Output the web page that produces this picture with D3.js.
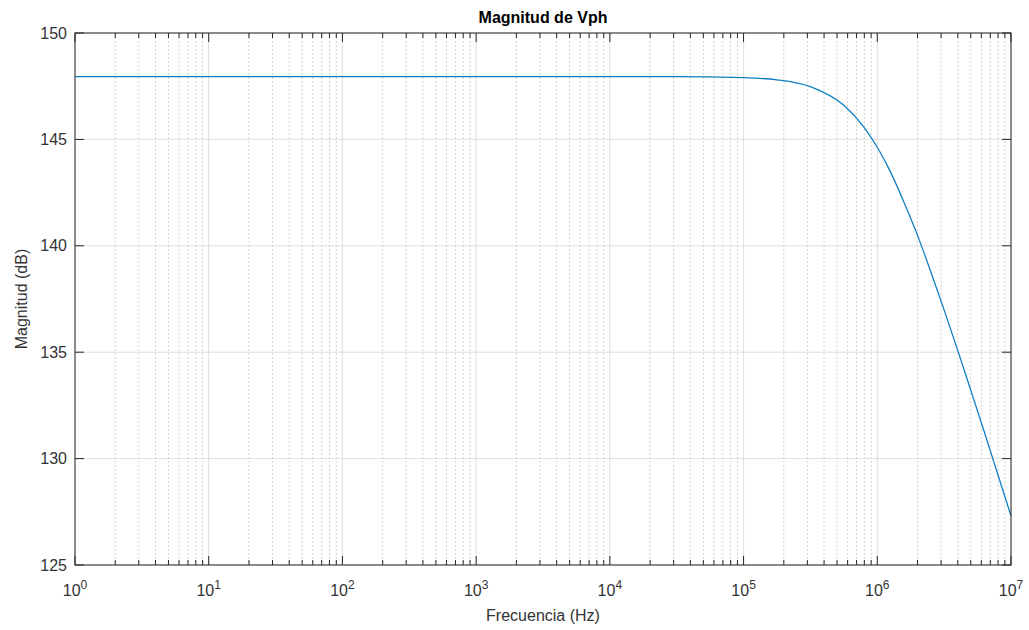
<!DOCTYPE html>
<html>
<head>
<meta charset="utf-8">
<script src="https://cdn.jsdelivr.net/npm/d3@7"></script>
<style>
  body { margin: 0; background: #fff; }
  text { font-family: "Liberation Sans", Arial, sans-serif; fill: #333; }
</style>
</head>
<body>
<svg id="chart" width="1029" height="630"></svg>
<script>
// frequency (Hz) and magnitude (dB)
var freq = [1, 10, 100, 1e3, 1e4, 3.16e4, 1e5, 1.78e5, 3.16e5, 5.62e5, 7.94e5,
            1e6, 1.26e6, 1.58e6, 2e6, 2.51e6, 3.16e6, 3.98e6, 5.01e6, 6.31e6, 7.94e6, 1e7];
var mag = [147.95, 147.95, 147.95, 147.95, 147.95, 147.95, 147.90, 147.80, 147.48, 146.60, 145.58,
           144.63, 143.45, 142.06, 140.49, 138.79, 136.99, 135.12, 133.20, 131.26, 129.29, 127.31];
var yTicks = [125, 130, 135, 140, 145, 150];
var xDecades = [0, 1, 2, 3, 4, 5, 6, 7];

var margin = {top: 33, right: 18, bottom: 65, left: 75};
var width = 1029 - margin.left - margin.right;
var height = 630 - margin.top - margin.bottom;

var svg = d3.select("#chart");
var g = svg.append("g")
    .attr("transform", "translate(" + margin.left + "," + margin.top + ")");

var x = d3.scaleLog().domain([1, 1e7]).range([0, width]);
var y = d3.scaleLinear().domain([125, 150]).range([height, 0]);

// minor positions
var minors = [];
xDecades.slice(0, -1).forEach(function (d) {
  for (var k = 2; k <= 9; k++) minors.push(k * Math.pow(10, d));
});

// grid
g.selectAll(".minor-grid").data(minors).enter().append("line")
    .attr("x1", function (d) { return x(d); }).attr("x2", function (d) { return x(d); })
    .attr("y1", 0).attr("y2", height)
    .style("stroke", "#d2d2d2").style("stroke-width", 1).style("stroke-dasharray", "2,2");
g.selectAll(".major-xgrid").data(xDecades).enter().append("line")
    .attr("x1", function (d) { return x(Math.pow(10, d)); }).attr("x2", function (d) { return x(Math.pow(10, d)); })
    .attr("y1", 0).attr("y2", height)
    .style("stroke", "#dedede").style("stroke-width", 1);
g.selectAll(".major-ygrid").data(yTicks).enter().append("line")
    .attr("x1", 0).attr("x2", width)
    .attr("y1", function (d) { return y(d); }).attr("y2", function (d) { return y(d); })
    .style("stroke", "#dedede").style("stroke-width", 1);

// line
var line = d3.line()
    .x(function (d, i) { return x(freq[i]); })
    .y(function (d) { return y(d); })
    .curve(d3.curveMonotoneX);
g.append("path")
    .datum(mag)
    .style("fill", "none")
    .style("stroke", "#0f7fc4")
    .style("stroke-width", 1.3)
    .attr("d", line);

// box
g.append("rect")
    .attr("x", 0).attr("y", 0).attr("width", width).attr("height", height)
    .style("fill", "none").style("stroke", "#262626").style("stroke-width", 1);

// ticks (inward, on all four sides)
var tickColor = "#262626";
xDecades.forEach(function (d) {
  var px = x(Math.pow(10, d));
  g.append("line").attr("x1", px).attr("x2", px).attr("y1", height).attr("y2", height - 9).style("stroke", tickColor);
  g.append("line").attr("x1", px).attr("x2", px).attr("y1", 0).attr("y2", 9).style("stroke", tickColor);
});
minors.forEach(function (d) {
  var px = x(d);
  g.append("line").attr("x1", px).attr("x2", px).attr("y1", height).attr("y2", height - 5).style("stroke", tickColor);
  g.append("line").attr("x1", px).attr("x2", px).attr("y1", 0).attr("y2", 5).style("stroke", tickColor);
});
yTicks.forEach(function (d) {
  var py = y(d);
  g.append("line").attr("x1", 0).attr("x2", 9).attr("y1", py).attr("y2", py).style("stroke", tickColor);
  g.append("line").attr("x1", width).attr("x2", width - 9).attr("y1", py).attr("y2", py).style("stroke", tickColor);
});

// tick labels
g.selectAll(".ylab").data(yTicks).enter().append("text")
    .attr("x", -8).attr("y", function (d) { return y(d); })
    .attr("dy", "0.35em").attr("text-anchor", "end")
    .style("font-size", "16px")
    .text(function (d) { return d; });

var xl = g.selectAll(".xlab").data(xDecades).enter().append("text")
    .attr("x", function (d) { return x(Math.pow(10, d)); })
    .attr("y", height + 31)
    .attr("text-anchor", "middle")
    .style("font-size", "16px");
xl.append("tspan").text("10");
xl.append("tspan").attr("dy", "-7").style("font-size", "12px").text(function (d) { return d; });

// titles
svg.append("text")
    .attr("x", margin.left + width / 2).attr("y", 23)
    .attr("text-anchor", "middle")
    .style("font-size", "16px").style("font-weight", "bold").style("fill", "#000")
    .text("Magnitud de Vph");
svg.append("text")
    .attr("x", margin.left + width / 2).attr("y", 621)
    .attr("text-anchor", "middle")
    .style("font-size", "16px")
    .text("Frecuencia (Hz)");
svg.append("text")
    .attr("transform", "translate(27," + (margin.top + height / 2) + ") rotate(-90)")
    .attr("text-anchor", "middle")
    .style("font-size", "16px")
    .text("Magnitud (dB)");
</script>
</body>
</html>
